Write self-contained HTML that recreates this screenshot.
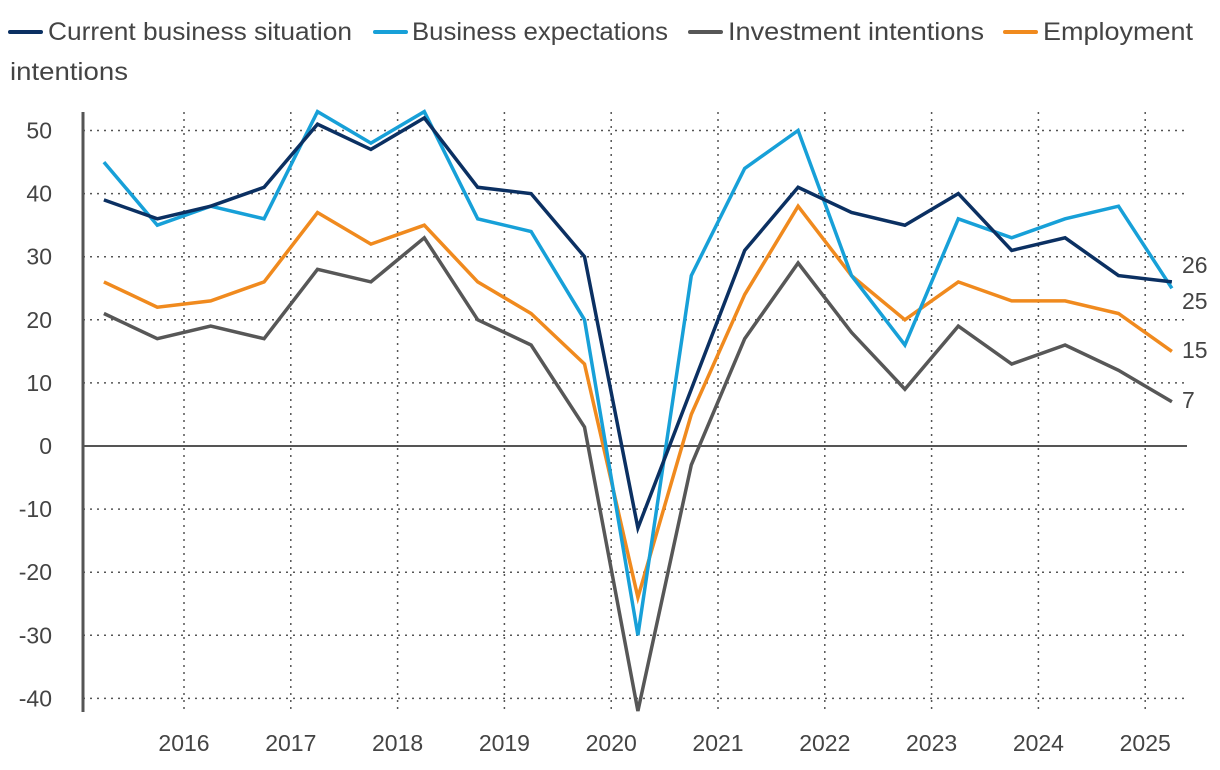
<!DOCTYPE html>
<html><head><meta charset="utf-8"><style>
html,body{margin:0;padding:0;background:#fff;}
svg{display:block;font-family:"Liberation Sans",sans-serif;}
</style></head><body>
<svg id="chart" width="1220" height="770" viewBox="0 0 1220 770">
<g id="legend"></g>
<g id="grid"></g>
<g id="axes"></g>
<g id="series"></g>
<g id="labels"></g>
</svg>
<script>
const times = [2015.25,2015.75,2016.25,2016.75,2017.25,2017.75,2018.25,2018.75,2019.25,2019.75,2020.25,2020.75,2021.25,2021.75,2022.25,2022.75,2023.25,2023.75,2024.25,2024.75,2025.25];
const currentSituation = [39,36,38,41,51,47,52,41,40,30,-13,9,31,41,37,35,40,31,33,27,26];
const businessExpectations = [45,35,38,36,53,48,53,36,34,20,-30,27,44,50,27,16,36,33,36,38,25];
const investmentIntentions = [21,17,19,17,28,26,33,20,16,3,-42,-3,17,29,18,9,19,13,16,12,7];
const employmentIntentions = [26,22,23,26,37,32,35,26,21,13,-24,5,24,38,27,20,26,23,23,21,15];
const yTicks = [50,40,30,20,10,0,-10,-20,-30,-40];
const xYears = [2016,2017,2018,2019,2020,2021,2022,2023,2024,2025];

const NS='http://www.w3.org/2000/svg';
const X0=83, X1=1187, Y0=112, Y1=712;
function xs(t){return 184+(t-2016)*106.8;}
function ys(v){return 446-v*6.31;}
function mk(tag,attrs,parent){const e=document.createElementNS(NS,tag);for(const k in attrs)e.setAttribute(k,attrs[k]);parent.appendChild(e);return e;}

const grid=document.getElementById('grid'), axes=document.getElementById('axes');
yTicks.forEach(v=>{
  if(v!==0){
    const l=mk('line',{x1:X0,x2:X1,y1:ys(v),y2:ys(v),stroke:'#555','stroke-width':1.5,'stroke-dasharray':'2 5'},grid);
    
    
  }
  const t=mk('text',{x:52,y:ys(v)+8,'text-anchor':'end','font-size':23,fill:'#444'},axes);
  t.textContent=v;
  
  
});
xYears.forEach(y=>{
  const l=mk('line',{x1:xs(y),x2:xs(y),y1:Y0,y2:Y1,stroke:'#555','stroke-width':1.5,'stroke-dasharray':'2 5'},grid);
  
  
  const t=mk('text',{x:xs(y),y:751,'text-anchor':'middle','font-size':23,fill:'#444'},axes);
  t.textContent=y;
  
  
});
const za=mk('line',{x1:X0,x2:X1,y1:ys(0),y2:ys(0),stroke:'#555','stroke-width':2},axes);


const ya=mk('line',{x1:X0,x2:X0,y1:Y0,y2:Y1,stroke:'#555','stroke-width':3},axes);



const seriesG=document.getElementById('series'), labelsG=document.getElementById('labels');
const seriesList=[
 {name:'investment-intentions-line',data:investmentIntentions,color:'#575757',ly:408},
 {name:'employment-intentions-line',data:employmentIntentions,color:'#f08a1e',ly:358},
 {name:'business-expectations-line',data:businessExpectations,color:'#17a0d8',ly:309},
 {name:'current-business-situation-line',data:currentSituation,color:'#0b3062',ly:273}
];
seriesList.forEach(s=>{
  const pts=s.data.map((v,i)=>xs(times[i]).toFixed(1)+','+ys(v).toFixed(1)).join(' ');
  const p=mk('polyline',{points:pts,fill:'none',stroke:s.color,'stroke-width':3.5,'stroke-linejoin':'miter'},seriesG);
  
  
  const t=mk('text',{x:1182,y:s.ly,'font-size':23,fill:'#444'},labelsG);
  t.textContent=s.data[s.data.length-1];
  
  
});

const leg=document.getElementById('legend');
const legendItems=[
 {label:'Current business situation',color:'#0b3062',mx:10,tx:48,w:304},
 {label:'Business expectations',color:'#17a0d8',mx:375,tx:412,w:256},
 {label:'Investment intentions',color:'#575757',mx:690,tx:728,w:256},
 {label:'Employment',color:'#f08a1e',mx:1005,tx:1043,w:150}
];
legendItems.forEach(it=>{
  const g=mk('g',{},leg);
  
  
  mk('line',{x1:it.mx,x2:it.mx+31,y1:32,y2:32,stroke:it.color,'stroke-width':4,'stroke-linecap':'round'},g);
  const t=mk('text',{x:it.tx,y:40,'font-size':25,fill:'#444',textLength:it.w,lengthAdjust:'spacingAndGlyphs'},g);
  t.textContent=it.label;
});
const t2=mk('text',{x:10,y:80,'font-size':25,fill:'#444',textLength:118,lengthAdjust:'spacingAndGlyphs'},leg);
t2.textContent='intentions';


</script>
</body></html>
